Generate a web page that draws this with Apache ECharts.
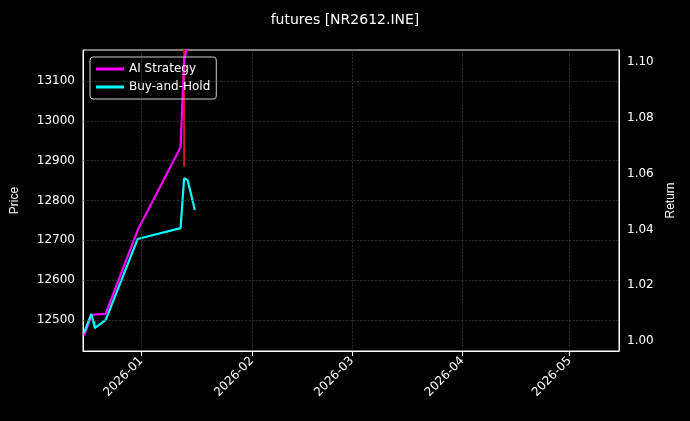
<!DOCTYPE html><html><head><meta charset="utf-8">
<script src="https://cdn.jsdelivr.net/npm/echarts@6/dist/echarts.min.js"></script>
<style>html,body{margin:0;background:#000}#c{width:690px;height:421px}</style></head><body><div id="c"></div>
<script>
const dates = ['2025-12-16','2025-12-18','2025-12-19','2025-12-22','2025-12-31','2026-01-12','2026-01-13','2026-01-14','2026-01-16'];
const aiStrategy = [1.002,1.009,1.0095,1.0097,1.0398,1.0695,1.101,1.106,null];
const buyHold = [1.003,1.0097,1.0047,1.0075,1.0366,1.0405,1.0584,1.0577,1.047];
const redCandle = [['2026-01-13',12885],['2026-01-13',13180]];
const greenCandle = [['2025-12-19',12478],['2025-12-19',12498]];
const priceTicks = [12500,12600,12700,12800,12900,13000,13100];
const monthTicks = ['2026-01-01','2026-02-01','2026-03-01','2026-04-01','2026-05-01'];
const ts = d => new Date(d+'T00:00:00Z').getTime();
const chart = echarts.init(document.getElementById('c'));
const gl = {color:'#444',type:'dashed',width:0.6};
chart.setOption({
  backgroundColor:'#000',
  animation:false,
  title:{text:'futures [NR2612.INE]',left:'center',top:8,textStyle:{color:'#fff',fontSize:14,fontWeight:'normal',fontFamily:'DejaVu Sans'}},
  legend:{left:90,top:57,orient:'vertical',itemGap:6,itemWidth:28,itemHeight:3,borderColor:'#ccc',borderWidth:1,borderRadius:3,padding:[6,6],
    textStyle:{color:'#fff',fontSize:12,fontFamily:'DejaVu Sans'},data:['AI Strategy','Buy-and-Hold'],icon:'rect'},
  grid:{left:83,right:71,top:50,bottom:70,show:true,borderColor:'#fff',borderWidth:1},
  xAxis:{type:'time',min:ts('2025-12-15')+16*3600e3,max:ts('2026-05-14')+20*3600e3,minInterval:28*86400e3,
    axisLine:{lineStyle:{color:'#fff'}},axisTick:{lineStyle:{color:'#fff'}},splitLine:{show:false},
    axisLabel:{color:'#fff',rotate:45,fontSize:12,fontFamily:'DejaVu Sans',formatter:v=>{const d=new Date(v);return d.getUTCFullYear()+'-'+String(d.getUTCMonth()+1).padStart(2,'0');}}},
  yAxis:[
    {type:'value',name:'Price',nameLocation:'middle',nameRotate:90,nameGap:62,nameTextStyle:{color:'#fff',fontSize:12},min:12422,max:13178,interval:2,
      axisLine:{show:true,lineStyle:{color:'#fff'}},axisTick:{show:false},splitLine:{show:false},
      axisLabel:{color:'#fff',fontSize:12,fontFamily:'DejaVu Sans',formatter:v=>Math.round(v)%100===0?String(Math.round(v)):''}},
    {type:'value',name:'Return',nameLocation:'middle',nameRotate:90,nameGap:45,nameTextStyle:{color:'#fff',fontSize:12},min:0.9964,max:1.1044,interval:0.0004,
      axisLine:{show:true,lineStyle:{color:'#fff'}},axisTick:{show:false},splitLine:{show:false},
      axisLabel:{color:'#fff',fontSize:12,fontFamily:'DejaVu Sans',formatter:v=>{const r=Math.round(v*100);return Math.abs(v*100-r)<1e-4&&r%2===0?(r/100).toFixed(2):'';}}}
  ],
  series:[
    {type:'line',yAxisIndex:0,data:[],silent:true,
      markLine:{silent:true,symbol:'none',label:{show:false},lineStyle:gl,
        data:priceTicks.map(v=>({yAxis:v})).concat(monthTicks.map(m=>({xAxis:ts(m)})))}},
    {type:'line',yAxisIndex:0,data:redCandle.map(p=>[ts(p[0]),p[1]]),symbol:'none',lineStyle:{color:'#e01010',width:2},silent:true,z:1},
    {type:'line',yAxisIndex:0,data:greenCandle.map(p=>[ts(p[0]),p[1]]),symbol:'none',lineStyle:{color:'#10a010',width:1.5},silent:true,z:1},
    {name:'AI Strategy',type:'line',yAxisIndex:1,data:dates.map((d,i)=>[ts(d),aiStrategy[i]]),symbol:'none',lineStyle:{color:'#ff00ff',width:2.2},itemStyle:{color:'#ff00ff'},z:3},
    {name:'Buy-and-Hold',type:'line',yAxisIndex:1,data:dates.map((d,i)=>[ts(d),buyHold[i]]),symbol:'none',lineStyle:{color:'#00ffff',width:2.2},itemStyle:{color:'#00ffff'},z:4}
  ]
});
</script></body></html>
